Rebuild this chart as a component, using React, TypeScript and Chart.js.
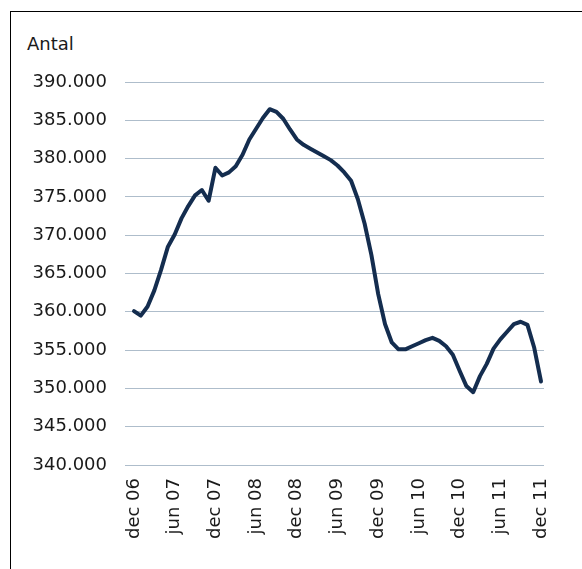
import React, { useEffect, useRef } from "react";
import { Chart, registerables } from "chart.js";

Chart.register(...registerables);

const tickLabels = ["dec 06", "jun 07", "dec 07", "jun 08", "dec 08", "jun 09", "dec 09", "jun 10", "dec 10", "jun 11", "dec 11"];

// Monthly values, dec 06 .. dec 11
const values = [
  360100, 359500, 360700, 362800, 365500, 368500, 370100, 372200, 373800, 375200,
  375900, 374500, 378800, 377800, 378200, 379000, 380500, 382500, 383900, 385300,
  386450, 386100, 385200, 383800, 382500, 381800, 381300, 380800, 380300, 379800,
  379100, 378200, 377100, 374700, 371500, 367400, 362300, 358400, 356000, 355100,
  355100, 355500, 355900, 356300, 356600, 356200, 355500, 354400, 352300, 350300,
  349500, 351600, 353200, 355200, 356400, 357400, 358400, 358700, 358300, 355300,
  350900,
];

const yMin = 340000;
const yMax = 390000;
const yStep = 5000;

const FONT = "'DejaVu Sans', Verdana, sans-serif";

export default function App() {
  const ref = useRef<HTMLCanvasElement | null>(null);

  useEffect(() => {
    if (!ref.current) return;
    const points = values.map((v, i) => ({ x: i, y: v }));
    const chart = new Chart(ref.current, {
      type: "line",
      data: {
        datasets: [
          {
            data: points,
            borderColor: "#142d4f",
            borderWidth: 4,
            pointRadius: 0,
            tension: 0,
            borderJoinStyle: "round",
            borderCapStyle: "round",
            fill: false,
          },
        ],
      },
      options: {
        animation: false,
        responsive: false,
        layout: { padding: { top: 82, right: 38, left: 0, bottom: 0 } },
        plugins: { legend: { display: false }, tooltip: { enabled: false } },
        scales: {
          x: {
            type: "linear",
            min: -1.327,
            max: 60.44,
            afterBuildTicks: (scale: any) => {
              scale.ticks = tickLabels.map((_, k) => ({ value: k * 6 }));
            },
            afterFit: (scale: any) => {
              scale.height = 104;
            },
            grid: { display: false, drawTicks: false },
            border: { display: false },
            ticks: {
              autoSkip: false,
              maxRotation: 90,
              minRotation: 90,
              padding: 13,
              color: "#1a1a1a",
              font: { family: FONT, size: 18 },
              callback: (v: any) => {
                const idx = Math.round(Number(v) / 6);
                return tickLabels[idx] ?? "";
              },
            },
          },
          y: {
            min: yMin,
            max: yMax,
            afterFit: (scale: any) => {
              scale.width = 125;
            },
            grid: { color: "#aebdcb", lineWidth: 1, drawTicks: false },
            border: { display: false },
            ticks: {
              stepSize: yStep,
              padding: 18,
              color: "#1a1a1a",
              font: { family: FONT, size: 18 },
              callback: (v: any) => {
                const n = Number(v);
                return Math.floor(n / 1000) + "." + String(n % 1000).padStart(3, "0");
              },
            },
          },
        },
      },
    });
    return () => chart.destroy();
  }, []);

  return (
    <div style={{ position: "absolute", left: 0, top: 0, width: 582, height: 569, overflow: "hidden", background: "#fff" }}>
      <div
        style={{
          position: "absolute",
          left: 10,
          top: 11,
          width: 572,
          height: 558,
          borderLeft: "1px solid #000",
          borderTop: "1px solid #000",
          boxSizing: "border-box",
        }}
      />
      <div
        style={{
          position: "absolute",
          left: 27,
          top: 35,
          fontFamily: FONT,
          fontSize: 18,
          lineHeight: "18px",
          color: "#1a1a1a",
        }}
      >
        Antal
      </div>
      <canvas ref={ref} width={582} height={569} style={{ position: "absolute", left: 0, top: 0 }} />
    </div>
  );
}
